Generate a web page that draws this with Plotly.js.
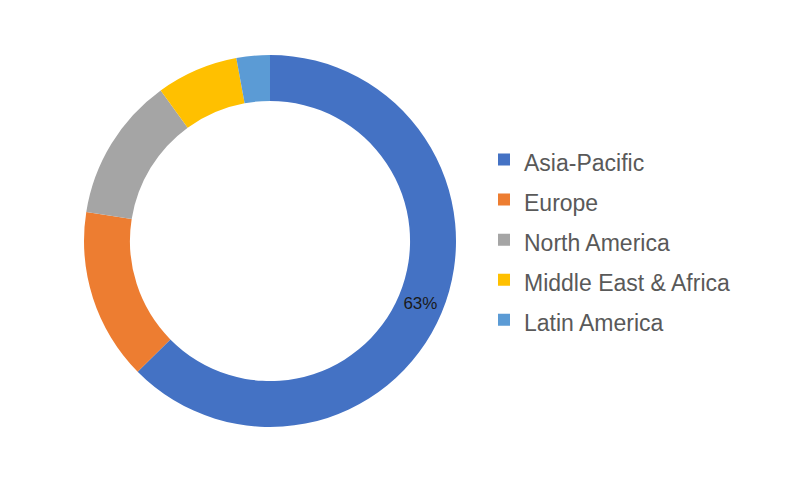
<!DOCTYPE html>
<html>
<head>
<meta charset="utf-8">
<script src="https://cdn.plot.ly/plotly-3.0.1.min.js"></script>
<style>html,body{margin:0;padding:0;background:#fff;}#chart{width:800px;height:480px;}</style>
</head>
<body>
<div id="chart"></div>
<script>
const regions = ["Asia-Pacific", "Europe", "North America", "Middle East & Africa", "Latin America"];
const shares = [62.6, 14.9, 12.5, 7.1, 2.9];
const colors = ["#4472C4", "#ED7D31", "#A5A5A5", "#FFC000", "#5B9BD5"];
const shownLabels = ["%{percent:.0%}", "", "", "", ""];

// legend rows are spaced by the legend font size; the visible text size is set per label
const legendLabels = regions.map(r => '<span style="font-size:23px">' + r.replace("&", "&amp;") + '</span>');

const trace = {
  type: "pie",
  labels: legendLabels,
  values: shares,
  sort: false,
  direction: "clockwise",
  rotation: 0,
  hole: 0.753,
  marker: { colors: colors, line: { width: 0 } },
  texttemplate: shownLabels,
  textposition: "inside",
  insidetextorientation: "horizontal",
  textfont: { family: "Liberation Sans, Arial, sans-serif", size: 17, color: "#1a1a1a" },
  domain: { x: [0.105, 0.57], y: [0.1104, 0.8854] },
  hoverinfo: "label+percent"
};

const layout = {
  width: 800, height: 480,
  margin: { l: 0, r: 0, t: 0, b: 0 },
  paper_bgcolor: "#ffffff",
  showlegend: true,
  legend: {
    x: 0.605, y: 0.5, xanchor: "left", yanchor: "middle",
    font: { family: "Liberation Sans, Arial, sans-serif", size: 28.5, color: "#595959" },
    bgcolor: "rgba(0,0,0,0)"
  }
};

Plotly.newPlot("chart", [trace], layout, { displayModeBar: false, staticPlot: true });
</script>
</body>
</html>
